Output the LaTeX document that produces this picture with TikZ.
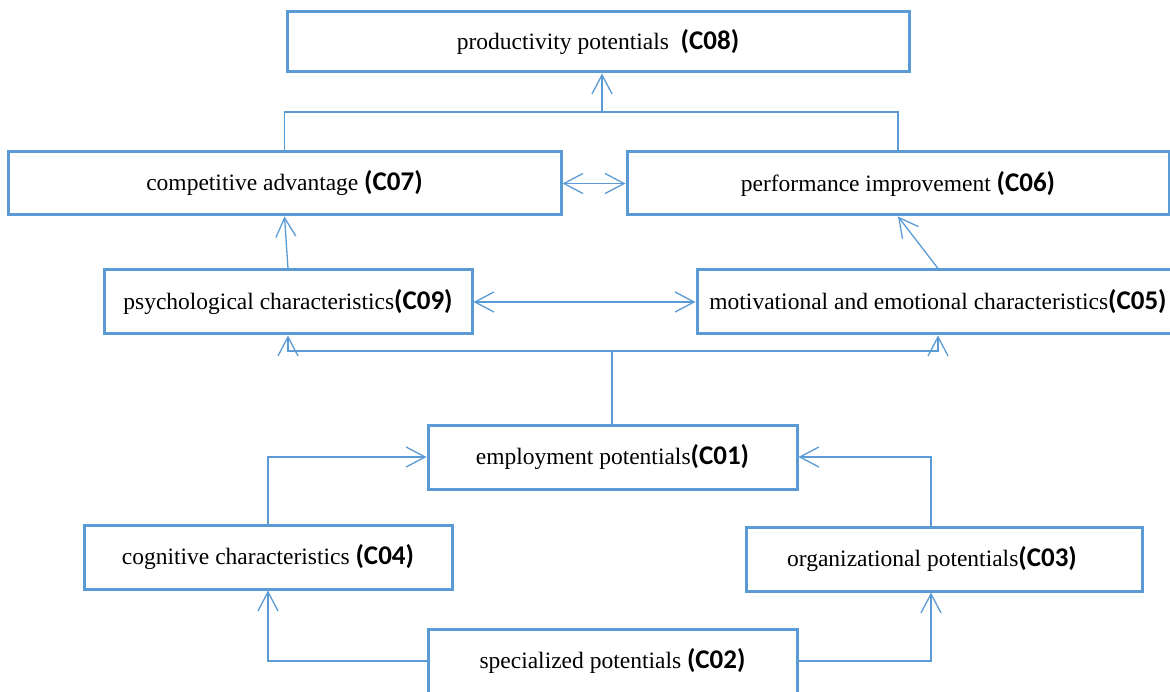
\documentclass[tikz,border=0pt]{standalone}
\usepackage{fontspec}
\setmainfont{Liberation Serif}
\newfontfamily\calfont{Carlito}
\usetikzlibrary{arrows.meta}
\definecolor{boxblue}{HTML}{5B9BD5}
\newcommand\codelbl[1]{{\calfont\bfseries\fontsize{27}{30}\selectfont #1}}
\tikzset{
  box/.style={draw=boxblue, line width=3pt, rectangle, inner sep=0pt, fill=white,
    font=\fontsize{23.5}{28}\selectfont},
  lbl/.style={inner sep=0pt, font=\fontsize{23.5}{28}\selectfont},
  conn/.style={draw=boxblue, line width=1.3pt},
  barb/.tip={Straight Barb[length=19pt,width=20pt,line width=1.3pt]},
  arr/.style={conn, -barb},
  arrb/.style={conn, barb-barb}
}
\begin{document}
\begin{tikzpicture}[x=1pt,y=-1pt]
\useasboundingbox (0,0) rectangle (1170,692);
\clip (0,0) rectangle (1170,692);
\fill[white] (0,0) rectangle (1170,692);
% boxes
\node[box, minimum width=622pt, minimum height=60pt] (c08) at (598,42) {productivity potentials~ \codelbl{(C08)}};
\node[box, minimum width=553pt, minimum height=63pt] (c07) at (284.5,183.5) {competitive advantage \codelbl{(C07)}};
\node[box, minimum width=542pt, minimum height=63pt] (c06) at (898,183.5) {performance improvement \codelbl{(C06)}};
\node[box, minimum width=368pt, minimum height=64pt] (c09) at (288,302) {psychological characteristics\codelbl{(C09)}};
\node[box, minimum width=482pt, minimum height=64pt] (c05) at (938,302) {motivational and emotional characteristics\codelbl{(C05)}};
\node[box, minimum width=369pt, minimum height=64pt] (c01) at (612.5,457) {employment potentials\codelbl{(C01)}};
\node[box, minimum width=368pt, minimum height=64pt] (c04) at (268,557) {cognitive characteristics \codelbl{(C04)}};
\node[box, minimum width=396pt, minimum height=64pt] (c03) at (944,559) {};
\node[lbl] (c03t) at (932,559) {organizational potentials\codelbl{(C03)}};
\node[box, minimum width=369pt, minimum height=72pt] (c02) at (612.5,665) {};
\node[lbl] (c02t) at (612.5,661) {specialized potentials \codelbl{(C02)}};
% junctions
\coordinate (j1) at (602,112);
\coordinate (j2) at (612,351);
% connectors
\draw[conn] (c07.north) |- (j1) -| (c06.north);
\draw[arr] (j1) -- (j1 |- c08.south);
\draw[arrb] (c07.east) -- (c06.west);
\draw[arr] (c09.north) -- (c07.south);
\draw[arr] (c05.north) -- (c06.south);
\draw[arrb] (c09.east) -- (c05.west);
\draw[conn] (c01.north -| j2) -- (j2);
\draw[arr] (j2) -| (c09.south);
\draw[arr] (j2) -| (c05.south);
\draw[arr] (c04.north) |- (c01.west);
\draw[arr] ([xshift=-13pt]c03.north) |- (c01.east);
\draw[arr] (c02t -| c02.west) -| (c04.south);
\draw[arr] (c02t -| c02.east) -| ([xshift=-13pt]c03.south);
\end{tikzpicture}
\end{document}
